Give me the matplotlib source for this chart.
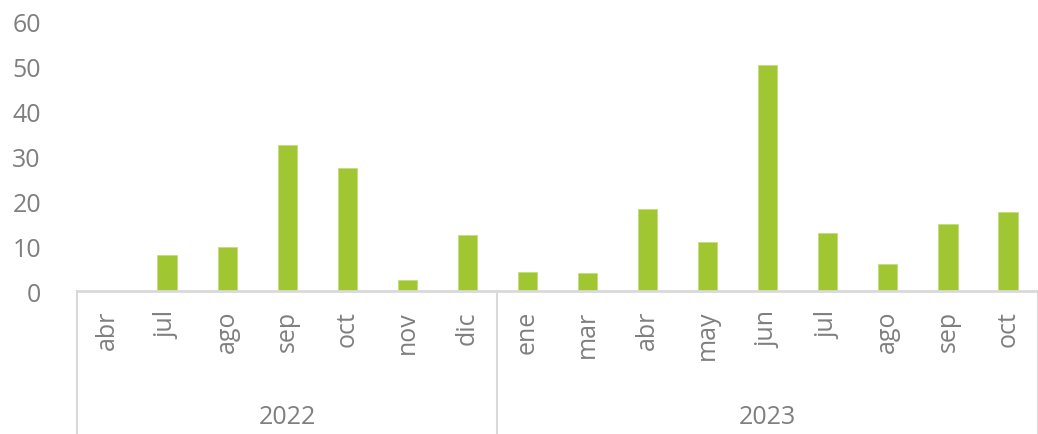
import matplotlib.pyplot as plt
import matplotlib.transforms as mtransforms

months = ["abr", "jul", "ago", "sep", "oct", "nov", "dic",
          "ene", "mar", "abr", "may", "jun", "jul", "ago", "sep", "oct"]
values = [0, 8.0, 9.8, 32.5, 27.4, 2.5, 12.4,
          4.2, 4.0, 18.2, 10.9, 50.2, 12.8, 6.0, 14.9, 17.6]
years = ["2022", "2023"]
year_counts = [7, 9]

plt.rcParams['font.family'] = ['Open Sans', 'DejaVu Sans']
gray = "#7f7f7f"

fig = plt.figure(figsize=(10.38, 4.35), dpi=100)
ax = fig.add_axes([77 / 1038, 0.3287, 1 - 77 / 1038, 0.9494 - 0.3287])

x = range(len(values))
ax.bar(x, values, width=0.32, color="#a0c632", edgecolor="#c4dc80", linewidth=0.6)

ax.set_xlim(-0.5, len(values) - 0.5)
ax.set_ylim(0, 60)
ax.set_yticks(range(0, 61, 10))
ax.tick_params(axis="y", length=0, labelsize=18, labelcolor=gray, pad=26)
ax.set_xticks([])

for s in ["top", "right", "left"]:
    ax.spines[s].set_visible(False)
ax.spines["bottom"].set_color("#d9d9d9")
ax.spines["bottom"].set_linewidth(2)

trans = mtransforms.blended_transform_factory(ax.transData, ax.transAxes)
for i, m in enumerate(months):
    ax.text(i, -0.07, m, rotation=90, ha="center", va="top",
            fontsize=18, color=gray, transform=trans)

start = 0
bounds = [-0.5]
for y, n in zip(years, year_counts):
    mid = start + (n - 1) / 2
    ax.text(mid, -0.465, y, ha="center", va="center", fontsize=18,
            color=gray, transform=trans)
    start += n
    bounds.append(start - 0.5)

for b in bounds:
    ax.plot([b, b], [0, -0.54], color="#d9d9d9", lw=1.5,
            transform=trans, clip_on=False)

fig.savefig("out.png", dpi=100)
